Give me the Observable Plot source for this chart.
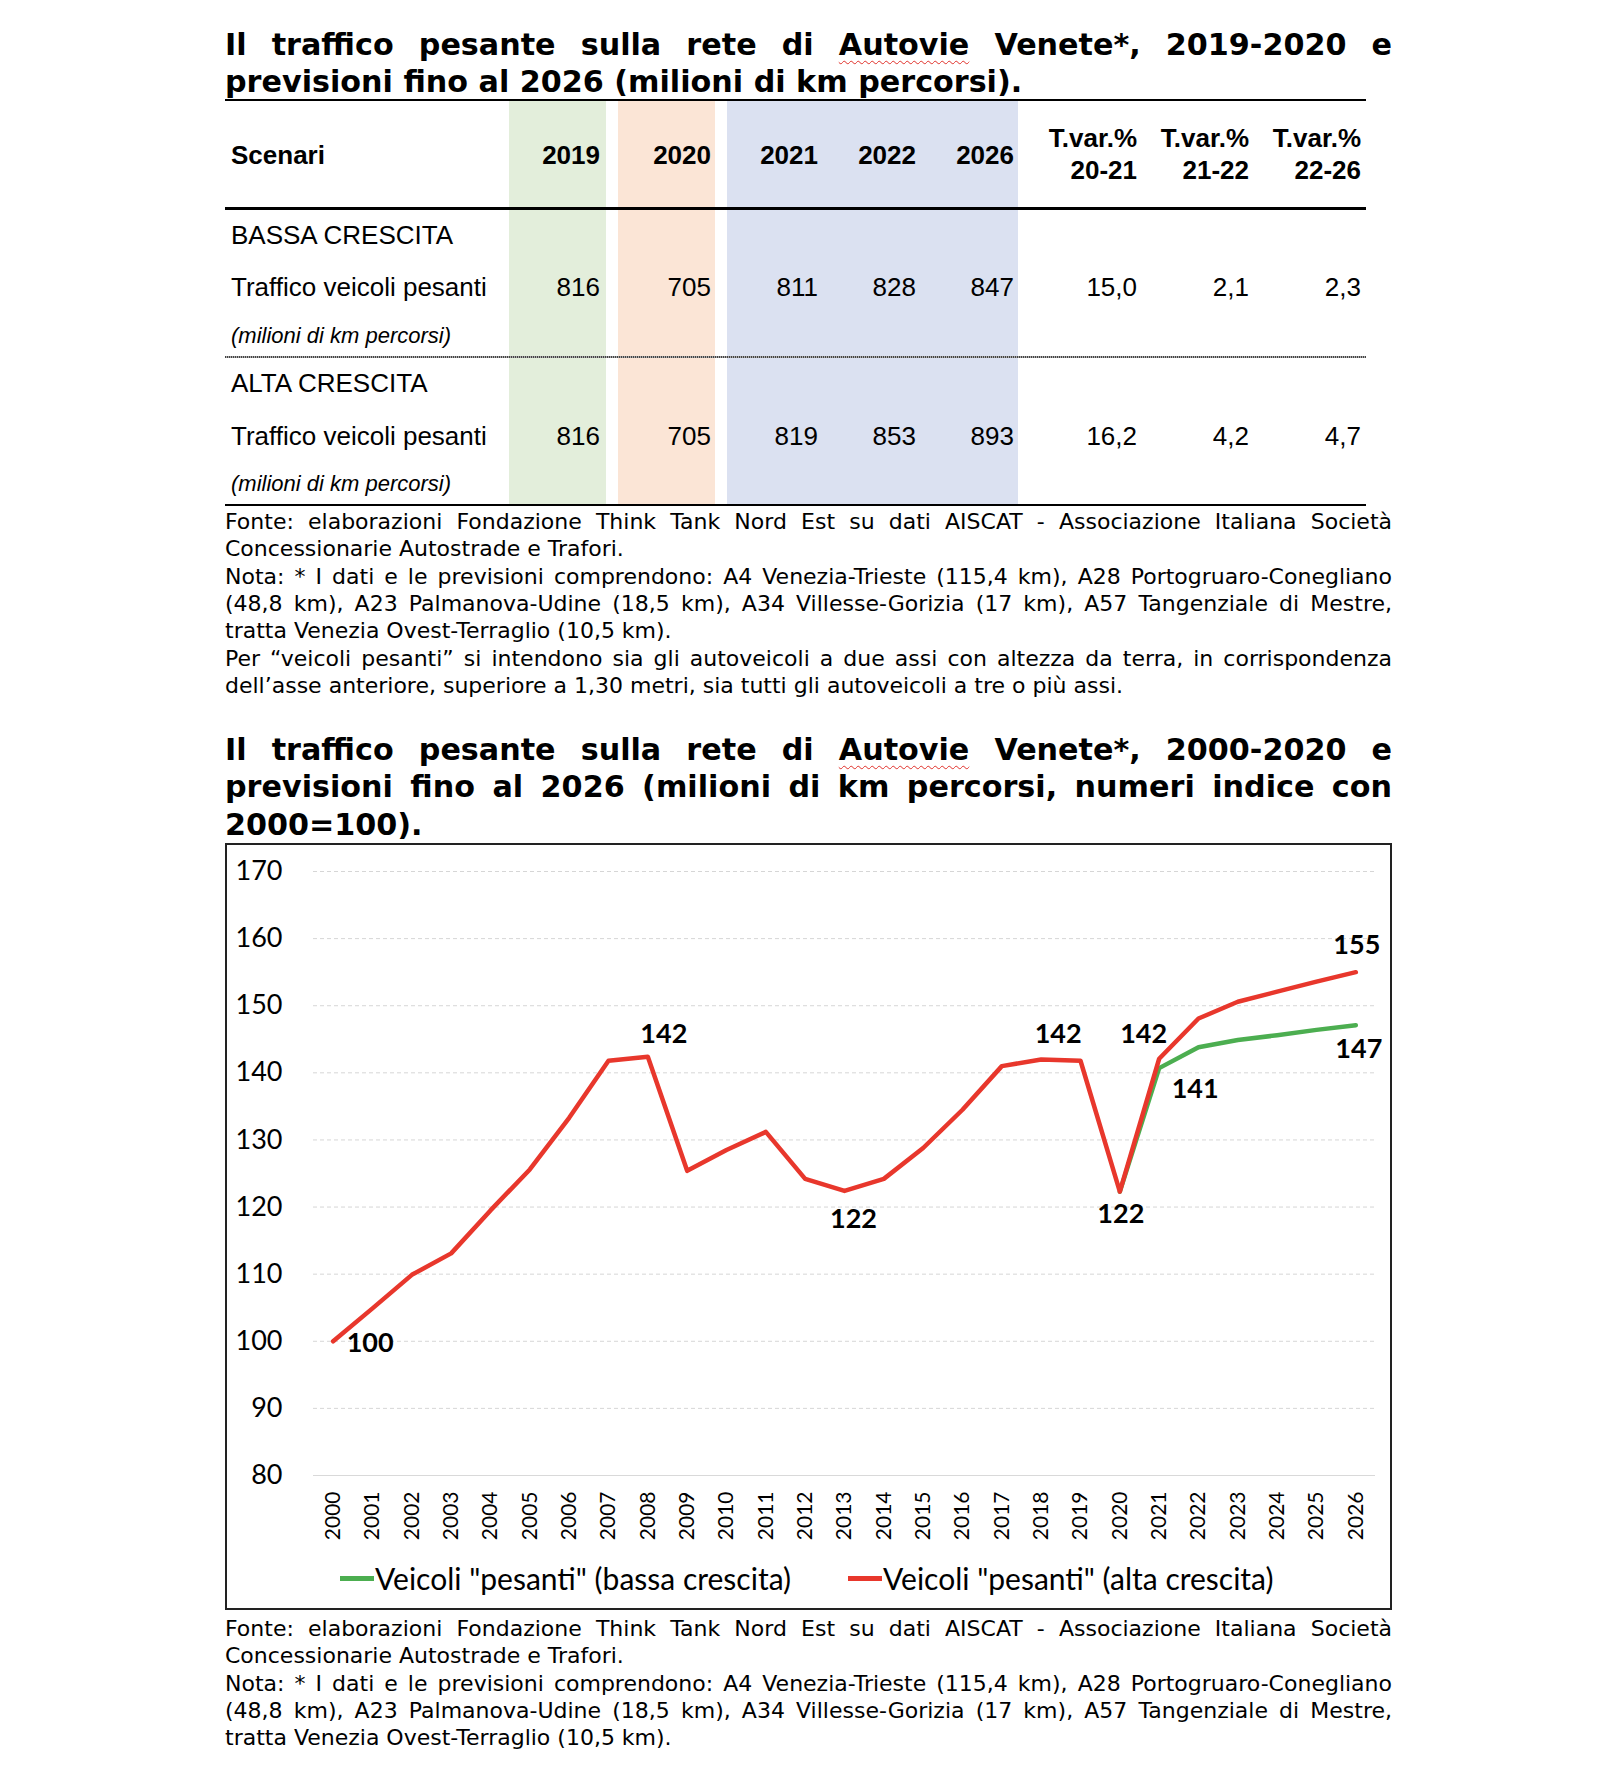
<!DOCTYPE html>
<html>
<head>
<meta charset="utf-8">
<script src="https://cdn.jsdelivr.net/npm/d3@7"></script>
<script src="https://cdn.jsdelivr.net/npm/@observablehq/plot@0.6"></script>
<style>
  html, body { margin: 0; padding: 0; background: #fff; }
  #page { position: relative; width: 1616px; height: 1782px; overflow: hidden; background: #fff; }
  .title { position: absolute; left: 225px; width: 1167px; font-family: "DejaVu Sans", sans-serif; font-weight: bold; font-size: 30.2px; line-height: 37.5px; color: #000; }
  .note { position: absolute; left: 225px; width: 1167px; font-family: "DejaVu Sans", sans-serif; font-size: 22px; line-height: 27.4px; color: #000; }
  .jl { text-align: justify; text-align-last: justify; }
  .ll { text-align: left; }
  .spell { text-decoration: underline wavy #e0302a; text-decoration-thickness: 1px; text-underline-offset: 5px; }
  .cell { position: absolute; font-family: "Liberation Sans", Arial, sans-serif; font-size: 26px; line-height: 30px; height: 30px; color: #000; white-space: nowrap; }
  .r { text-align: right; width: 300px; }
  .b { font-weight: bold; }
  .it { font-style: italic; font-size: 22px; }
  .band { position: absolute; }
  .rule { position: absolute; left: 225px; width: 1141px; background: #000; }
  .legend-item { position: absolute; font-family: Lato, sans-serif; font-size: 30px; line-height: 36px; height: 36px; color: #000; white-space: nowrap; }
</style>
</head>
<body>
<div id="page"></div>
<script>
// ---------------- DATA ----------------
// Table (milioni di km percorsi)
const tableYears = ["2019", "2020", "2021", "2022", "2026"];
const varLabels = ["20-21", "21-22", "22-26"];
const scenarioNames = ["BASSA CRESCITA", "ALTA CRESCITA"];
const rowLabel = "Traffico veicoli pesanti";
const unitLabel = "(milioni di km percorsi)";
const bassaKm = [816, 705, 811, 828, 847];
const altaKm = [816, 705, 819, 853, 893];
const bassaVar = [15.0, 2.1, 2.3];
const altaVar = [16.2, 4.2, 4.7];

// Line chart (numeri indice 2000=100)
const histYears = [2000, 2001, 2002, 2003, 2004, 2005, 2006, 2007, 2008, 2009, 2010,
                   2011, 2012, 2013, 2014, 2015, 2016, 2017, 2018, 2019, 2020];
const histIndex = [100, 104.9, 109.9, 113.1, 119.5, 125.6, 133.3, 141.8, 142.4, 125.4, 128.5,
                   131.2, 124.2, 122.4, 124.2, 128.8, 134.5, 141.0, 142.0, 141.8, 122.3];
const forecastYears = [2021, 2022, 2023, 2024, 2025, 2026];
const bassaIndex = [140.7, 143.8, 144.9, 145.6, 146.4, 147.1];
const altaIndex = [142.1, 148.1, 150.6, 152.1, 153.6, 155.0];
const yTicks = [80, 90, 100, 110, 120, 130, 140, 150, 160, 170];
const seriesNames = ['Veicoli "pesanti" (bassa crescita)', 'Veicoli "pesanti" (alta crescita)'];
const altaLabelYears = [2000, 2008, 2013, 2018, 2020, 2021, 2026];
const bassaLabelYears = [2021, 2026];

// Text
const title1 = [
  'Il traffico pesante sulla rete di <span class="spell">Autovie</span> Venete*, 2019-2020 e',
  'previsioni fino al 2026 (milioni di km percorsi).'
];
const title2 = [
  'Il traffico pesante sulla rete di <span class="spell">Autovie</span> Venete*, 2000-2020 e',
  'previsioni fino al 2026 (milioni di km percorsi, numeri indice con',
  '2000=100).'
];
const sourceLines = [
  'Fonte: elaborazioni Fondazione Think Tank Nord Est su dati AISCAT - Associazione Italiana Società',
  'Concessionarie Autostrade e Trafori.',
  'Nota: * I dati e le previsioni comprendono: A4 Venezia-Trieste (115,4 km), A28 Portogruaro-Conegliano',
  '(48,8 km), A23 Palmanova-Udine (18,5 km), A34 Villesse-Gorizia (17 km), A57 Tangenziale di Mestre,',
  'tratta Venezia Ovest-Terraglio (10,5 km).'
];
const defLines = [
  'Per “veicoli pesanti” si intendono sia gli autoveicoli a due assi con altezza da terra, in corrispondenza',
  'dell’asse anteriore, superiore a 1,30 metri, sia tutti gli autoveicoli a tre o più assi.'
];
const justifiedSource = [true, false, true, true, false];
const justifiedDef = [true, false];

// ---------------- LAYOUT ----------------
const page = document.getElementById("page");
function el(cls, html, css) {
  const d = document.createElement("div");
  if (cls) d.className = cls;
  d.innerHTML = html;
  Object.assign(d.style, css || {});
  page.appendChild(d);
  return d;
}
function block(cls, lines, just, top) {
  const d = el(cls, "", { top: top + "px" });
  lines.forEach((t, i) => {
    const l = document.createElement("div");
    l.className = just[i] ? "jl" : "ll";
    l.innerHTML = t;
    d.appendChild(l);
  });
}

// Titles
block("title", title1, [true, false], 25.8);
block("title", title2, [true, true, false], 730.8);

// Table bands
el("band", "", { left: "509px", width: "97px", top: "100px", height: "405px", background: "#e3eedb" });
el("band", "", { left: "618px", width: "97px", top: "100px", height: "405px", background: "#fbe5d6" });
el("band", "", { left: "727px", width: "291px", top: "100px", height: "405px", background: "#dbe1f1" });

// Table rules
el("rule", "", { top: "99px", height: "2px" });
el("rule", "", { top: "207px", height: "2.5px" });
el("rule", "", { top: "356px", height: "2px", background: "repeating-linear-gradient(90deg,#444 0 1px,#aaa 1px 2px)" });
el("rule", "", { top: "504px", height: "2px" });

const colRight = [600, 711, 818, 916, 1014];
const varRight = [1137, 1249, 1361];
const fmt1 = v => d3.format(".1f")(v).replace(".", ",");
function cellL(text, cls, cy) { el("cell " + cls, text, { left: "231px", top: (cy - 15) + "px" }); }
function cellR(text, cls, right, cy) { el("cell r " + cls, text, { left: (right - 300) + "px", top: (cy - 15) + "px" }); }

// Header
cellL("Scenari", "b", 155);
tableYears.forEach((y, i) => cellR(y, "b", colRight[i], 155));
varLabels.forEach((v, i) => { cellR("T.var.%", "b", varRight[i], 138); cellR(v, "b", varRight[i], 170); });

// Rows
const rowsY = [{ s: 235, v: 287, u: 336 }, { s: 383, v: 436, u: 484 }];
[[bassaKm, bassaVar], [altaKm, altaVar]].forEach(([km, vr], k) => {
  const ry = rowsY[k];
  cellL(scenarioNames[k], "", ry.s);
  cellL(rowLabel, "", ry.v);
  cellL(unitLabel, "it", ry.u);
  km.forEach((v, i) => cellR(String(v), "", colRight[i], ry.v));
  vr.forEach((v, i) => cellR(fmt1(v), "", varRight[i], ry.v));
});

// Notes
block("note", sourceLines.concat(defLines), justifiedSource.concat(justifiedDef), 507.7);
block("note", sourceLines, justifiedSource, 1614.7);

// ---------------- CHART ----------------
const red = "#e8372c", green = "#4cae50";
const histRows = histYears.map((year, i) => ({ year, value: histIndex[i] }));
const altaRows = histRows.concat(forecastYears.map((year, i) => ({ year, value: altaIndex[i] })));
const bassaRows = [histRows[histRows.length - 1]].concat(forecastYears.map((year, i) => ({ year, value: bassaIndex[i] })));
const allYears = histYears.concat(forecastYears);

// label offsets (style)
const labelOffsets = {
  alta: { 2000: [37, 2], 2008: [16, -22], 2013: [9, 28], 2018: [17, -25], 2020: [1, 22.5], 2021: [-15.5, -24], 2026: [1, -27] },
  bassa: { 2021: [36, 21.5], 2026: [3, 24] }
};
function labelMarks(rows, yearsToLabel, key) {
  return yearsToLabel.map(yr => {
    const [dx, dy] = labelOffsets[key][yr];
    return Plot.text(rows.filter(d => d.year === yr), {
      x: "year", y: "value", text: d => d3.format(".0f")(d.value),
      dx, dy, fontSize: 27, fontWeight: "bold", fill: "#000"
    });
  });
}

const chart = Plot.plot({
  width: 1167,
  height: 712,
  marginLeft: 88,
  marginRight: 17,
  marginTop: 28,
  marginBottom: 80,
  style: { fontFamily: "Lato, sans-serif", background: "transparent", color: "#000", overflow: "visible" },
  x: { domain: [1999.5, 2026.5], label: null },
  y: { domain: [80, 170], label: null },
  marks: [
    Plot.ruleY(yTicks.filter(d => d > 80), { stroke: "#d6d6d6", strokeWidth: 1, strokeDasharray: "4,3" }),
    Plot.ruleY([80], { stroke: "#d9d9d9", strokeWidth: 1 }),
    Plot.axisY({ ticks: yTicks, tickSize: 0, tickPadding: 31, fontSize: 27, label: null, tickFormat: d => String(d) }),
    Plot.axisX({ ticks: allYears, tickSize: 0, tickPadding: 16, tickRotate: -90, fontSize: 21, label: null, tickFormat: d => String(d) }),
    Plot.line(bassaRows, { x: "year", y: "value", stroke: green, strokeWidth: 4.5, strokeLinejoin: "round" }),
    Plot.line(altaRows, { x: "year", y: "value", stroke: red, strokeWidth: 4.5, strokeLinejoin: "round" }),
    ...labelMarks(altaRows, altaLabelYears, "alta"),
    ...labelMarks(bassaRows, bassaLabelYears, "bassa")
  ]
});
const holder = el("", "", { position: "absolute", left: "225px", top: "843px", width: "1167px", height: "712px" });
holder.appendChild(chart);

// Legend
const legendColors = [green, red];
const legendX = [340, 848];
seriesNames.forEach((name, i) => {
  el("", "", { position: "absolute", left: legendX[i] + "px", top: "1575.5px", width: "34px", height: "5px", background: legendColors[i] });
  el("legend-item", name, { left: (legendX[i] + 35) + "px", top: "1560px" });
});

// Frame
el("", "", { position: "absolute", left: "225px", top: "843px", width: "1167px", height: "767px", border: "2px solid #222", boxSizing: "border-box", pointerEvents: "none" });
</script>
</body>
</html>
